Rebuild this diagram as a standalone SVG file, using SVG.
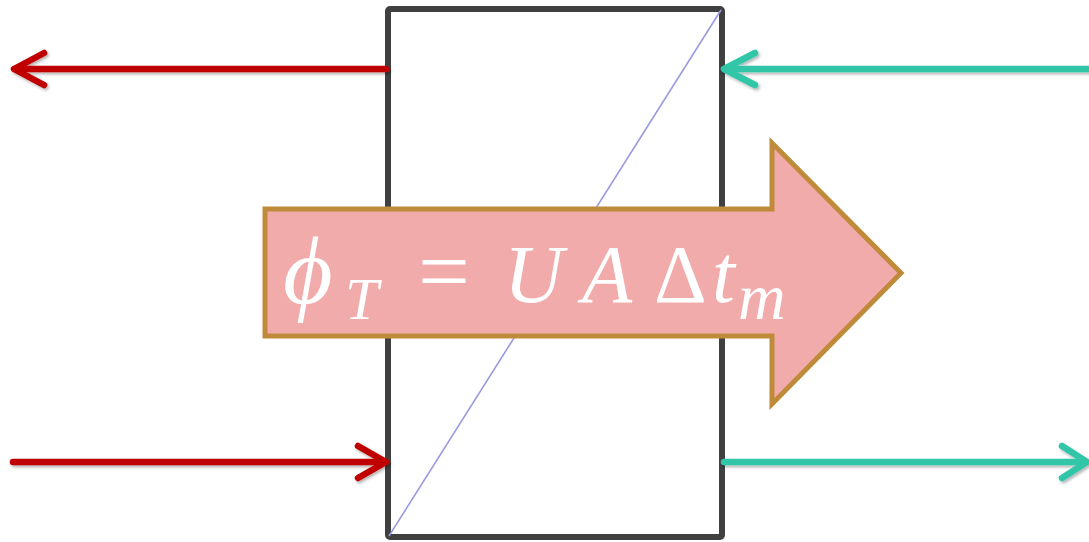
<svg xmlns="http://www.w3.org/2000/svg" width="1089" height="542" viewBox="0 0 1089 542">
<defs>
<style>
.box{fill:#fff;stroke:#404040;stroke-width:6;stroke-linejoin:round}
.diag{stroke:#9a9ae0;stroke-width:1.6;fill:none}
.red{stroke:#C00000;stroke-width:6.5;fill:none;stroke-linecap:round;stroke-linejoin:round}
.teal{stroke:#33C6A8;stroke-width:6.5;fill:none;stroke-linecap:round;stroke-linejoin:round}
.big{fill:#F2ABAB;stroke:#BF8B3A;stroke-width:5}
.eq{fill:#fff;font-family:"Liberation Serif","DejaVu Serif",serif;font-style:italic}
.up{font-style:normal}
</style>
<filter id="sh" x="-10%" y="-50%" width="120%" height="200%">
<feDropShadow dx="1.5" dy="2" stdDeviation="1.5" flood-color="#000" flood-opacity="0.3"/>
</filter>
</defs>
<g id="exchanger">
<rect class="box" x="388" y="9" width="334" height="528" rx="2"/>
<line class="diag" x1="389" y1="536" x2="721" y2="10"/>
</g>
<g id="connectors" filter="url(#sh)">
<g id="hot-out"><line class="red" x1="386" y1="69" x2="15" y2="69"/><polyline class="red" points="44,53 14,69 44,85"/></g>
<g id="cold-in"><line class="teal" x1="1089" y1="69" x2="726" y2="69"/><polyline class="teal" points="755,53 724,69 755,85"/></g>
<g id="hot-in"><line class="red" x1="13" y1="462" x2="384" y2="462"/><polyline class="red" points="358,446 386,462 358,478"/></g>
<g id="cold-out"><line class="teal" x1="724" y1="462" x2="1086" y2="462"/><polyline class="teal" points="1062,446 1087,462 1062,478"/></g>
</g>
<g id="heat-flow">
<polygon class="big" points="265,209 772,209 772,143 901,273 772,404 772,336 265,336"/>
<text class="eq" font-size="82"><tspan x="283" y="303" font-size="96">ϕ</tspan><tspan x="345" y="319" font-size="60">T</tspan><tspan class="up" x="418" y="302" font-size="92">=</tspan><tspan x="504" y="302">U</tspan><tspan x="582" y="302">A</tspan><tspan class="up" x="654" y="302">Δ</tspan><tspan x="712" y="302">t</tspan><tspan x="738" y="319" font-size="66">m</tspan></text>
</g>
</svg>
